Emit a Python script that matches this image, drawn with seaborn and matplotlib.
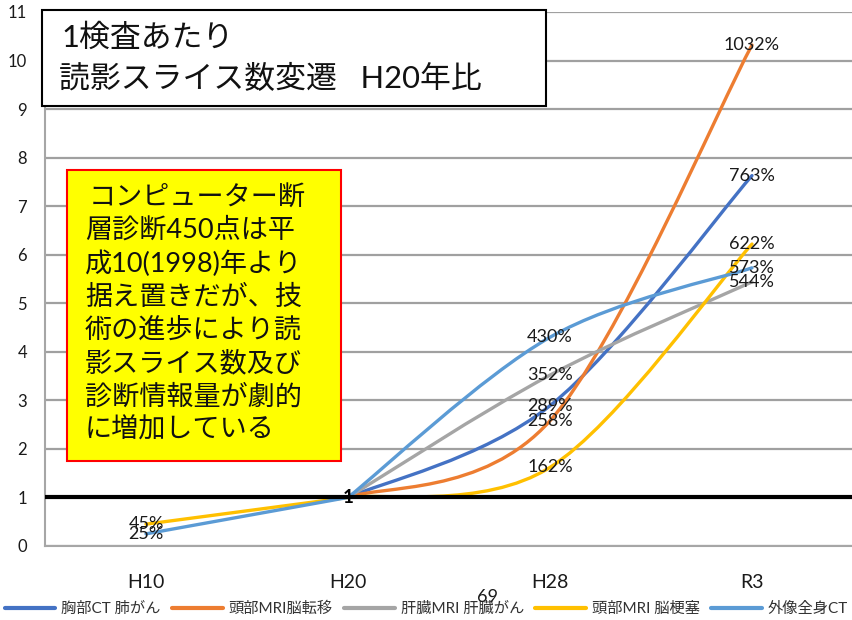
import numpy as np
import pandas as pd
import matplotlib
matplotlib.use("Agg")
import matplotlib.pyplot as plt
import seaborn as sns
from matplotlib.path import Path
from matplotlib.patches import PathPatch, Rectangle
from matplotlib.lines import Line2D

# ---------------- data ----------------
categories = ["H10", "H20", "H28", "R3"]
series_names = ["胸部CT 肺がん", "頭部MRI脳転移", "肝臓MRI 肝臓がん", "頭部MRI 脳梗塞", "外像全身CT"]
chest_ct_lung = [np.nan, 1.0, 2.89, 7.63]
head_mri_metastasis = [np.nan, 1.0, 2.58, 10.32]
liver_mri_cancer = [np.nan, 1.0, 3.52, 5.44]
head_mri_infarction = [0.45, 1.0, 1.62, 6.22]
whole_body_ct = [0.25, 1.0, 4.30, 5.73]
series_values = [chest_ct_lung, head_mri_metastasis, liver_mri_cancer,
                 head_mri_infarction, whole_body_ct]
colors = ["#4472C4", "#ED7D31", "#A5A5A5", "#FFC000", "#5B9BD5"]
y_ticks = list(range(0, 12))
base_category = "H20"

title_lines = ["1検査あたり", "読影スライス数変遷   H20年比"]
note_lines = ["コンピューター断", "層診断450点は平", "成10(1998)年より", "据え置きだが、技",
              "術の進歩により読", "影スライス数及び", "診断情報量が劇的", "に増加している"]
page_number = "69"

# ---------------- style ----------------
sns.set_style("white")
FAM = ["Lato", "Noto Sans CJK JP", "DejaVu Sans"]
plt.rcParams["font.family"] = FAM

W, H = 853, 620
fig = plt.figure(figsize=(W / 100, H / 100), dpi=100)
ax = fig.add_axes([45 / W, (H - 546) / H, (W - 45) / W, (546 - 12) / H])

df = pd.DataFrame({
    "x": np.tile(np.arange(len(categories)), len(series_names)),
    "value": np.concatenate(series_values),
    "series": np.repeat(series_names, len(categories)),
})
base_idx = categories.index(base_category)


def bezier_path(xs, ys):
    pts = [np.array([x, y]) for x, y in zip(xs, ys)]
    n = len(pts)
    verts = [pts[0]]
    codes = [Path.MOVETO]
    for i in range(n - 1):
        p0 = pts[i - 1] if i > 0 else pts[i]
        p1 = pts[i]
        p2 = pts[i + 1]
        p3 = pts[i + 2] if i + 2 < n else pts[i + 1]
        c1 = p1 + (p2 - p0) / 6.0
        c2 = p2 - (p3 - p1) / 6.0
        verts += [c1, c2, p2]
        codes += [Path.CURVE4] * 3
    return Path(verts, codes)


for name, col in zip(series_names, colors):
    sub = df[df["series"] == name].dropna()
    # earlier part (up to the base year): straight segment
    early = sub[sub["x"] <= base_idx]
    if len(early) > 1:
        sns.lineplot(data=early, x="x", y="value", ax=ax, color=col, lw=2.4,
                     legend=False, zorder=2)
    # later part (from base year): smoothed curve
    late = sub[sub["x"] >= base_idx]
    sns.lineplot(data=late, x="x", y="value", ax=ax, color=col, lw=2.4, legend=False)
    line = ax.lines[-1]
    xd = np.asarray(line.get_xdata(), float)
    yd = np.asarray(line.get_ydata(), float)
    line.remove()
    ax.add_patch(PathPatch(bezier_path(xd, yd), fill=False, edgecolor=col, lw=2.4,
                           capstyle="round", joinstyle="round", zorder=2))

# black reference line at 1
ax.axhline(1, color="black", lw=3.0, zorder=3)

# data labels
for name, vals in zip(series_names, series_values):
    for i, v in enumerate(vals):
        if np.isnan(v) or i == base_idx:
            continue
        ax.text(i, v, f"{round(v * 100)}%", ha="center", va="center",
                fontsize=13, color="#1a1a1a", zorder=5)
ax.text(base_idx, 1, "1", ha="center", va="center", fontsize=13.5, fontweight="bold",
        color="black", zorder=5)

ax.set_xlim(-0.5, len(categories) - 0.5)
ax.set_ylim(0, 11)
ax.set_xticks(range(len(categories)))
ax.set_xticklabels(categories, fontsize=14, color="#1a1a1a")
ax.set_yticks(y_ticks)
ax.set_yticklabels([str(t) for t in y_ticks], fontsize=12, color="#1a1a1a")
ax.tick_params(axis="x", length=0, pad=20)
ax.tick_params(axis="y", length=0, pad=13)
ax.set_xlabel("")
ax.set_ylabel("")
ax.grid(axis="y", color="#A0A0A0", lw=1.6)
ax.grid(axis="x", visible=False)
ax.set_axisbelow(True)
for s in ["top", "right"]:
    ax.spines[s].set_visible(False)
for s in ["left", "bottom"]:
    ax.spines[s].set_color("#A6A6A6")
    ax.spines[s].set_linewidth(1.5)

# title box
fig.add_artist(Rectangle((42 / W, 1 - 106 / H), 504 / W, 96 / H, transform=fig.transFigure,
                         facecolor="white", edgecolor="black", lw=1.5, zorder=10))
fig.text(61 / W, 1 - 38 / H, title_lines[0], ha="left", va="center", fontsize=22.2,
         family=FAM, color="#111111", zorder=11)
fig.text(59 / W, 1 - 78 / H, title_lines[1], ha="left", va="center", fontsize=22.2,
         family=FAM, color="#111111", zorder=11)

# yellow note box
fig.add_artist(Rectangle((67 / W, 1 - 461 / H), 274 / W, 291 / H, transform=fig.transFigure,
                         facecolor="#FFFF00", edgecolor="#FF0000", lw=1.5, zorder=10))
for i, txt in enumerate(note_lines):
    x0 = 89 if i == 0 else 85
    fig.text(x0 / W, 1 - (197 + 33.3 * i) / H, txt, ha="left", va="center",
             fontsize=19.5, family=FAM, color="#111111", zorder=11)

# page number
fig.text(488 / W, 1 - 597 / H, page_number, ha="center", va="center", fontsize=13,
         family=FAM, color="#1a1a1a", zorder=11)

# legend
handles = [Line2D([0], [0], color=c, lw=3) for c in colors]
fig.legend(handles, series_names, loc="center", bbox_to_anchor=(0.5, 1 - 609 / H), ncol=5,
           frameon=False, prop={"family": FAM, "size": 11}, handlelength=3.3,
           handletextpad=0.4, columnspacing=0.75, labelcolor="#333333")

fig.savefig("out.png", dpi=100)
